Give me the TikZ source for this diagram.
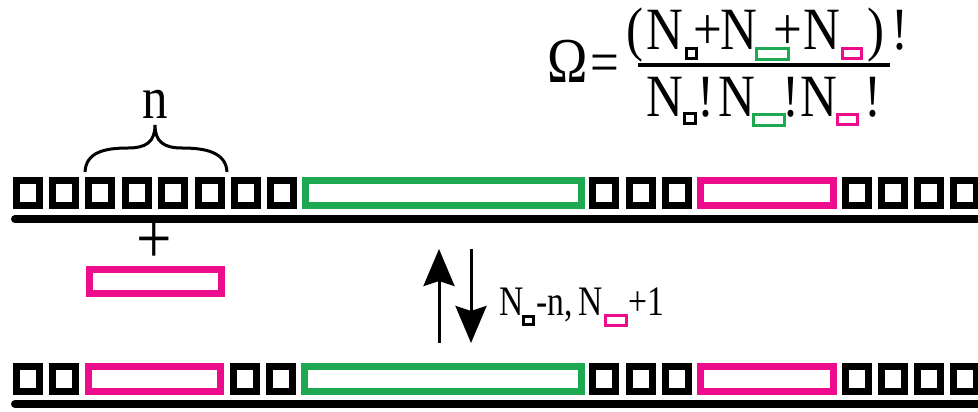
\documentclass[tikz,border=0pt]{standalone}
\usepackage{fontspec}
\usetikzlibrary{arrows.meta}
\newfontfamily\fml[FakeStretch=0.85]{Liberation Serif}
\newfontfamily\lblf[FakeStretch=0.8]{Liberation Serif}
\definecolor{pinkc}{RGB}{236,12,140}
\definecolor{greenc}{RGB}{29,168,81}
\tikzset{
  blk/.style={draw=black, line width=7pt},
  grn/.style={draw=greenc, line width=7pt},
  pnk/.style={draw=pinkc, line width=7pt},
  sblk/.style={draw=black, line width=3pt},
  sgrn/.style={draw=greenc, line width=3pt},
  spnk/.style={draw=pinkc, line width=3pt},
  rail/.style={line width=8pt, line cap=round},
  big/.style={inner sep=0pt, anchor=base west, font=\fml\fontsize{60}{60}\selectfont},
  lbl/.style={inner sep=0pt, anchor=base west, font=\lblf\fontsize{42}{42}\selectfont},
  arr/.style={line width=3pt, -{Stealth[length=37pt,width=31pt,inset=5pt]}}
}
\begin{document}
\begin{tikzpicture}[x=1pt,y=-1pt]
\useasboundingbox (0,0) rectangle (978,412);
% ---------- top row ----------
\foreach \x in {12.5,48.9,85.3,121.7,158.1,194.5,230.9,267.3,589,625.5,662,842,878,914,950}
  \draw[blk] ({\x+3.5},180.5) rectangle ++(23,25);
\draw[grn] (305.5,180.5) rectangle (581.5,205.5);
\draw[pnk] (700.5,180.5) rectangle (833.5,205.5);
\draw[rail] (15,219) -- (995,219);
% ---------- bottom row ----------
\foreach \x in {12.5,48.9,230,266,589,625.5,662,842,878,914,950}
  \draw[blk] ({\x+3.5},366.5) rectangle ++(23,25);
\draw[pnk] (88.5,366.5) rectangle (220.5,391.5);
\draw[grn] (304.5,366.5) rectangle (581.5,391.5);
\draw[pnk] (700.5,366.5) rectangle (833.5,391.5);
\draw[rail] (15,404) -- (995,404);
% ---------- brace and n ----------
\draw[line width=3pt] (85,172) .. controls (86,152) and (105,148) .. (128,148)
  .. controls (146,148) and (155,142) .. (155,125)
  .. controls (155,142) and (164,148) .. (182,148)
  .. controls (205,148) and (226,152) .. (227,172);
\node[big, anchor=base] (nlab) at (155,118) {n};
% ---------- plus and free pink ----------
\node[inner sep=0pt, font=\fml\fontsize{74}{74}\selectfont] (plus) at (154,243) {+};
\draw[pnk] (89.5,269.5) rectangle (221.5,293.5);
% ---------- arrows ----------
\coordinate (ua) at (439,343);
\coordinate (ub) at (439,249);
\coordinate (da) at (471,249);
\coordinate (db) at (471,343);
\draw[arr] (ua) -- (ub);
\draw[arr] (da) -- (db);
% ---------- label ----------
\node[lbl] (l1) at (499,315) {N};
\draw[sblk] (523.5,316.5) rectangle (533.5,324.5);
\node[lbl] (l2) at (536,315) {-n,};
\node[lbl] (l3) at (578,315) {N};
\draw[spnk] (605.5,315.5) rectangle (626.5,325.5);
\node[lbl] (l4) at (628,315) {+1};
% ---------- formula ----------
\node[big, font=\fml\fontsize{64}{64}\selectfont] (om) at (547,83) {Ω};
\node[big] (eq) at (590,83) {=};
\node[big] (lp) at (626,50) {(};
\node[big] (n1) at (646,50) {N};
\draw[sblk] (686.5,48.5) rectangle (696.5,58.5);
\node[big] (p1) at (693,50) {+};
\node[big] (n2) at (720,50) {N};
\draw[sgrn] (756.5,48.5) rectangle (788.5,59.5);
\node[big] (p2) at (773,50) {+};
\node[big] (n3) at (803,50) {N};
\draw[spnk] (842.5,48.5) rectangle (861.5,58.5);
\node[big] (rp) at (867,50) {)};
\node[big] (f0) at (891,50) {!};
\draw[line width=3.5pt] (638,65) -- (890,65);
\node[big] (d1) at (646,117) {N};
\draw[sblk] (684.5,113.5) rectangle (695.5,123.5);
\node[big] (f1) at (697,117) {!};
\node[big] (d2) at (718,117) {N};
\draw[sgrn] (753.5,114.5) rectangle (784.5,125.5);
\node[big] (f2) at (782,117) {!};
\node[big] (d3) at (800,117) {N};
\draw[spnk] (837.5,114.5) rectangle (857.5,124.5);
\node[big] (f3) at (864,117) {!};
\end{tikzpicture}
\end{document}
